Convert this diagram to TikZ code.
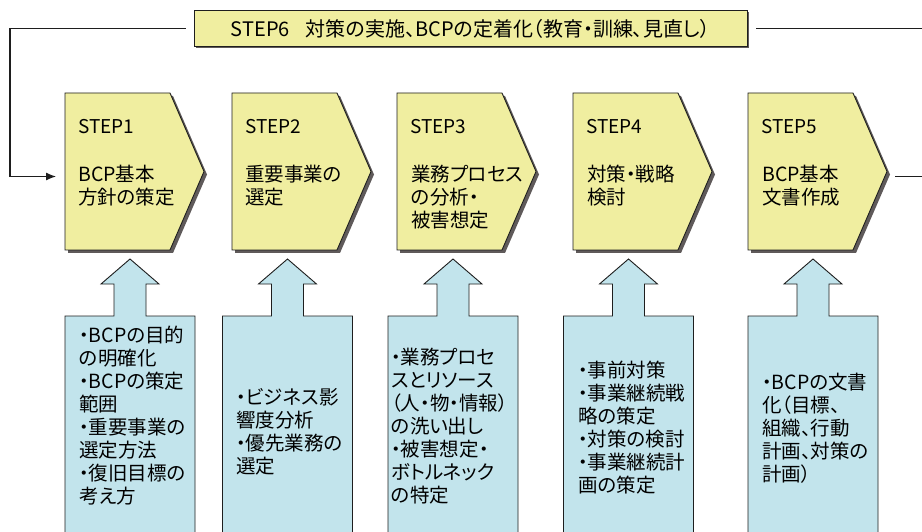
\documentclass[tikz,border=0pt]{standalone}
\usepackage{fontspec}
\setmainfont{Noto Sans CJK JP}[RawFeature=+palt]
\usetikzlibrary{arrows.meta}
\definecolor{stepyellow}{RGB}{240,238,160}
\definecolor{infoblue}{RGB}{194,228,236}
\definecolor{shadowgray}{RGB}{95,90,90}
\definecolor{edgecol}{RGB}{30,30,30}
\tikzset{
  stepframe/.style={rectangle, minimum width=105pt, minimum height=157pt, inner sep=0pt, outer sep=0pt},
  stepshape/.style={fill=stepyellow, draw=edgecol, line width=0.9pt, line join=miter},
  boxshadow/.style={fill=shadowgray},
  bluearrow/.style={fill=infoblue, draw=edgecol, line width=0.9pt},
  steptitle/.style={anchor=west, inner sep=0pt, font=\fontsize{19}{23}\selectfont},
  steptext/.style={anchor=west, inner sep=0pt, align=left, font=\fontsize{19.5}{23}\selectfont},
  infotext/.style={anchor=west, inner sep=0pt, align=left, font=\fontsize{19.5}{23}\selectfont},
  banner/.style={rectangle, fill=stepyellow, draw=edgecol, line width=0.9pt, minimum width=553pt, minimum height=36pt, inner sep=0pt, font=\fontsize{20}{24}\selectfont},
  connector/.style={draw=edgecol, line width=1.2pt},
}
\begin{document}
\begin{tikzpicture}[x=1pt,y=-1pt]
\useasboundingbox (0,0) rectangle (922,532);
\clip (0,0) rectangle (922,532);
\fill[white] (0,0) rectangle (922,532);

% banner (STEP6)
\fill[boxshadow] (195.5,12.5) rectangle (748.5,48);
\node[banner] (banner) at (470.5,28.5) {STEP6\hspace{0.8em}対策の実施、BCPの定着化（教育・訓練、見直し）};

% yellow step boxes
\foreach \i/\L in {1/65,2/232,3/397,4/573,5/748}{
  \node[stepframe] (step\i) at (\L+52.5,171.5) {};
  \fill[boxshadow] ([shift={(3,3)}]step\i.north west) -- ([shift={(3,3)}]step\i.north east)
     -- ([shift={(37,3)}]step\i.east) -- ([shift={(3,3)}]step\i.south east)
     -- ([shift={(3,3)}]step\i.south west) -- cycle;
  \draw[stepshape] (step\i.north west) -- (step\i.north east) -- ([xshift=34pt]step\i.east)
     -- (step\i.south east) -- (step\i.south west) -- cycle;
  \node[steptitle] (title\i) at (\L+13,127) {STEP\i};
}
\node[steptext] (desc1) at (78,185.5) {BCP基本\\方針の策定};
\node[steptext] (desc2) at (245,185.5) {重要事業の\\選定};
\node[steptext] (desc3) at (411,197) {業務プロセス\\の分析・\\被害想定};
\node[steptext] (desc4) at (587,185.5) {対策・戦略\\検討};
\node[steptext] (desc5) at (762,185.5) {BCP基本\\文書作成};

% blue input arrows
\foreach \i/\c in {1/130,2/287.5,3/453,4/628.5,5/813}{
  \draw[bluearrow] (\c-65,545) -- (\c-65,316) -- (\c-16,316) -- (\c-16,284) -- (\c-29,284)
     -- (\c,259) -- (\c+29,284) -- (\c+16,284) -- (\c+16,316) -- (\c+65,316) -- (\c+65,545);
}
\node[infotext] (info1) at (79,415.5) {・BCPの目的\\の明確化\\・BCPの策定\\範囲\\・重要事業の\\選定方法\\・復旧目標の\\考え方};
\node[infotext] (info2) at (236,431.5) {・ビジネス影\\響度分析\\・優先業務の\\選定};
\node[infotext] (info3) at (391,426) {・業務プロセ\\スとリソース\\（人・物・情報）\\の洗い出し\\・被害想定・\\ボトルネック\\の特定};
\node[infotext] (info4) at (578,428) {・事前対策\\・事業継続戦\\略の策定\\・対策の検討\\・事業継続計\\画の策定};
\node[infotext] (info5) at (762,428.5) {・BCPの文書\\化（目標、\\組織、行動\\計画、対策の\\計画）};

% feedback connectors
\coordinate (loopTop) at (10,28.5);
\coordinate (loopIn) at (56,176.5);
\coordinate (rightTop) at (925,28.5);
\coordinate (rightOut) at (925,176.5);
\coordinate (outStart) at (895,176.5);
\draw[connector, -{Latex[length=10pt,width=8pt]}] ([xshift=-8pt]banner.west) -- (loopTop) |- (loopIn);
\draw[connector] ([xshift=9pt]banner.east) -- (rightTop);
\draw[connector] (outStart) -- (rightOut);
\end{tikzpicture}
\end{document}
